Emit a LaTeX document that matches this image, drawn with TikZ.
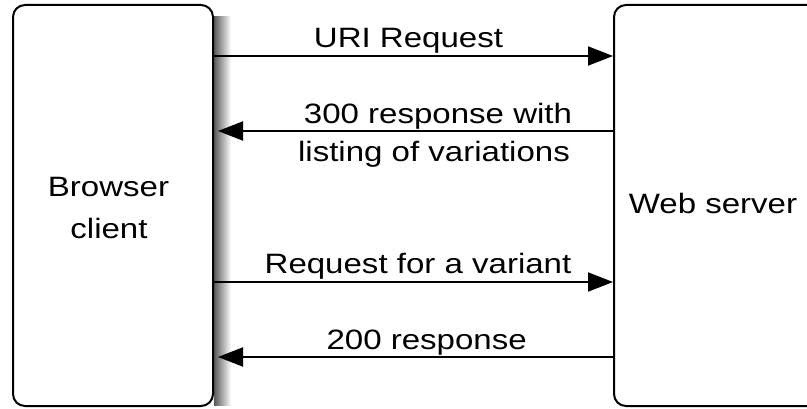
\documentclass[tikz,border=0pt]{standalone}
\usepackage{fontspec}
\newfontfamily\labfont[FakeStretch=1.18]{Liberation Sans}
\usetikzlibrary{arrows.meta}
\begin{document}
\begin{tikzpicture}[x=1pt,y=1pt,
  box/.style={draw=black, line width=2pt, rounded corners=12pt, fill=white, inner sep=0pt},
  lab/.style={font=\labfont\fontsize{28}{40}\selectfont, inner sep=0pt, anchor=base},
  arr/.style={line width=2pt, -{Triangle[length=25pt,width=19pt]}}]
\useasboundingbox (0,0) rectangle (807,408);
\clip (0,0) rectangle (807,408);
% shadow of the client box
\shade[left color=black!65, right color=white] (214,391) rectangle (231,3);
% boxes
\node[box, minimum width=200pt, minimum height=401pt] (client) at (113,202.5) {};
\node[box, minimum width=211pt, minimum height=401pt] (server) at (719.5,202.5) {};
% box texts
\node[lab] (clientA) at (108.5,211.3) {Browser};
\node[lab] (clientB) at (109,170) {client};
\node[lab] (serverT) at (713,194.7) {Web server};
% messages
\draw[arr] ([yshift=149.5pt]client.east) -- ([yshift=149.5pt]server.west);
\draw[arr, shorten >=4pt] ([yshift=74.5pt]server.west) -- ([yshift=74.5pt]client.east);
\draw[arr] ([yshift=-76.5pt]client.east) -- ([yshift=-76.5pt]server.west);
\draw[arr, shorten >=4pt] ([yshift=-151.5pt]server.west) -- ([yshift=-151.5pt]client.east);
% message labels
\node[lab] (m1) at (408.5,360) {URI Request};
\node[lab] (m2a) at (438,284.7) {300 response with};
\node[lab] (m2b) at (434,246.3) {listing of variations};
\node[lab] (m3) at (418,134.7) {Request for a variant};
\node[lab] (m4) at (426.7,59) {200 response};
\end{tikzpicture}
\end{document}
